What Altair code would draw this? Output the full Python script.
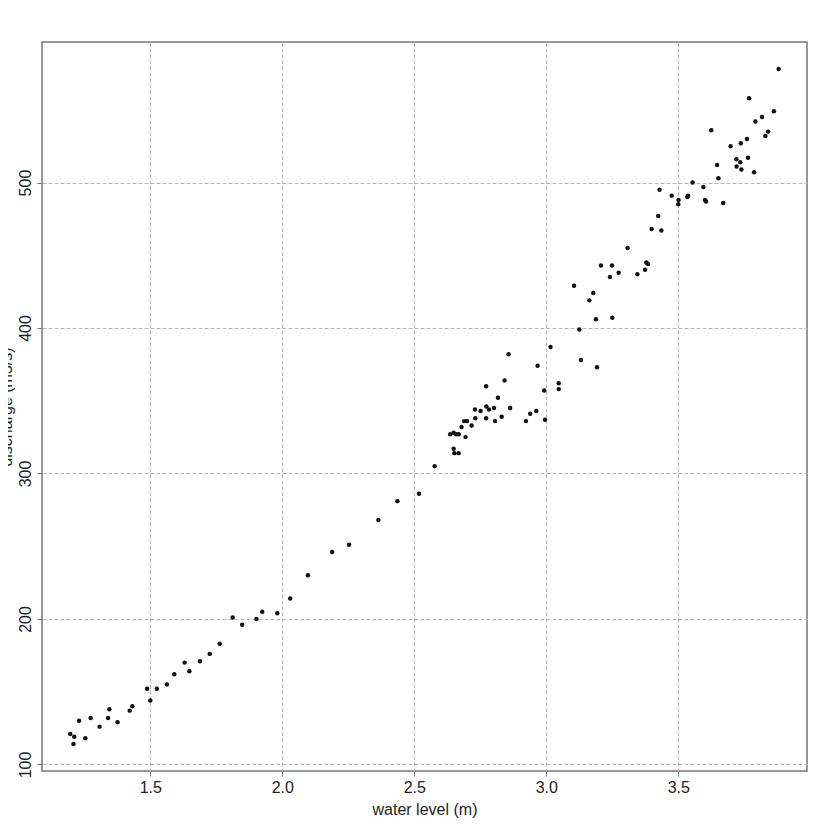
import altair as alt
import pandas as pd

water_level = [
    1.197, 1.212, 1.209, 1.230, 1.254, 1.274, 1.308, 1.340, 1.345, 1.376,
    1.422, 1.432, 1.488, 1.500, 1.525, 1.563, 1.591, 1.630, 1.648, 1.688,
    1.725, 1.763, 1.812, 1.848, 1.902, 1.924, 1.981, 2.030, 2.097, 2.189,
    2.253, 2.364, 2.436, 2.518, 2.577, 2.636, 2.649, 2.659, 2.668, 2.649,
    2.652, 2.668, 2.679, 2.694, 2.689, 2.700, 2.717, 2.730, 2.731, 2.751,
    2.772, 2.773, 2.772, 2.783, 2.802, 2.806, 2.817, 2.831, 2.842, 2.857,
    2.863, 2.923, 2.939, 2.962, 2.967, 2.992, 2.995, 3.016, 3.047, 3.047,
    3.131, 3.192, 3.125, 3.188, 3.250, 3.105, 3.163, 3.178, 3.207, 3.241,
    3.249, 3.274, 3.308, 3.345, 3.374, 3.379, 3.385, 3.399, 3.436, 3.424,
    3.429, 3.475, 3.501, 3.500, 3.534, 3.537, 3.554, 3.595, 3.601, 3.605,
    3.670, 3.652, 3.647, 3.721, 3.735, 3.739, 3.787, 3.880, 3.768, 3.862,
    3.625, 3.792, 3.817, 3.840, 3.830, 3.698, 3.737, 3.760, 3.720, 3.764,
]
discharge = [
    121, 119, 114, 130, 118, 132, 126, 132, 138, 129,
    137, 140, 152, 144, 152, 155, 162, 170, 164, 171,
    176, 183, 201, 196, 200, 205, 204, 214, 230, 246,
    251, 268, 281, 286, 305, 327, 328, 327, 327, 317,
    314, 314, 332, 325, 336, 336, 333, 344, 338, 343,
    360, 346, 338, 344, 345, 336, 352, 339, 364, 382,
    345, 336, 341, 343, 374, 357, 337, 387, 362, 358,
    378, 373, 399, 406, 407, 429, 419, 424, 443, 435,
    443, 438, 455, 437, 440, 445, 444, 468, 467, 477,
    495, 491, 488, 485, 490, 491, 500, 497, 488, 487,
    486, 503, 512, 511, 514, 509, 507, 578, 558, 549,
    536, 542, 545, 535, 532, 525, 527, 530, 516, 517,
]

x_ticks = [1.5, 2.0, 2.5, 3.0, 3.5]
y_ticks = [100, 200, 300, 400, 500]

df = pd.DataFrame({"wl": water_level, "q": discharge})

W, H = 765, 729

chart = (
    alt.Chart(df)
    .mark_circle(size=20, color="#111111", opacity=1)
    .encode(
        x=alt.X(
            "wl:Q",
            title="water level (m)",
            scale=alt.Scale(domain=[1.0898, 3.9875], nice=False, zero=False),
            axis=alt.Axis(values=x_ticks, format=".1f", labelPadding=3,
                          titlePadding=6),
        ),
        y=alt.Y(
            "q:Q",
            title="discharge (m3/s)",
            scale=alt.Scale(domain=[95.5, 596.6], nice=False, zero=False),
            axis=alt.Axis(values=y_ticks, labelAngle=-90, labelAlign="center",
                          labelBaseline="bottom", labelPadding=4,
                          titleX=-28, titleY=H / 2, titleAngle=270,
                          titleAlign="center", titleBaseline="bottom"),
        ),
    )
    .properties(
        width=W,
        height=H,
        autosize=alt.AutoSizeParams(type="none"),
        padding={"left": 34, "top": 34, "right": 12, "bottom": 50},
    )
    .configure_view(stroke="#777777", strokeWidth=1.5)
    .configure_axis(
        grid=True,
        gridDash=[4, 2],
        gridColor="#b8b8b8",
        gridWidth=1,
        domain=False,
        tickColor="#777777",
        tickSize=5,
        labelFont="Liberation Sans",
        labelFontSize=16,
        labelColor="#222222",
        titleFont="Liberation Sans",
        titleFontSize=16,
        titleFontWeight="normal",
        titleColor="#222222",
    )
)

chart.save("out.html", embed_options={"renderer": "svg", "actions": False})
